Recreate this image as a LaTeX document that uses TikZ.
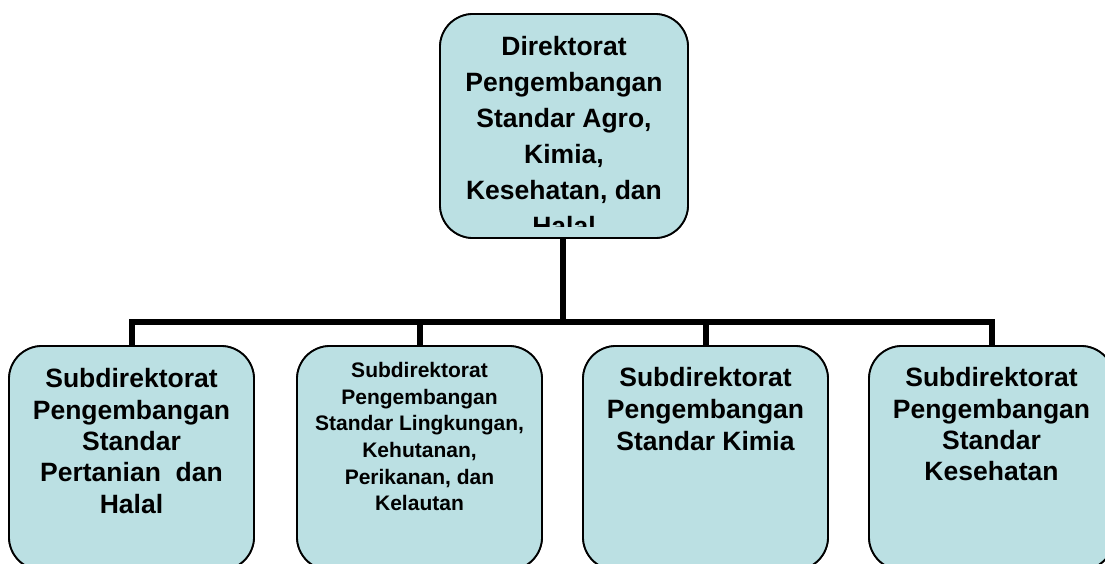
\documentclass[tikz,border=0pt]{standalone}
\usepackage{fontspec}
\setmainfont{Liberation Sans}
\definecolor{boxfill}{RGB}{187,224,227}
\tikzset{
  unitbox/.style={draw=black, line width=1.8pt, fill=boxfill, rounded corners=33pt,
    minimum width=245pt, minimum height=224pt, inner sep=0pt},
  bigtext/.style={anchor=north, inner sep=0pt, align=center,
    font=\fontsize{26.5}{31.3}\selectfont\bfseries},
  smalltext/.style={anchor=north, inner sep=0pt, align=center,
    font=\fontsize{21}{26.7}\selectfont\bfseries},
  conn/.style={line width=6pt, line join=miter}
}
\begin{document}
\begin{tikzpicture}[x=1pt,y=-1pt]
\useasboundingbox (0,0) rectangle (1105,563);
\coordinate (bus) at (563,322);
\node[unitbox, minimum width=248pt] (dir) at (564,126) {};
\node[unitbox] (sub1) at (131.5,458) {};
\node[unitbox] (sub2) at (419.5,458) {};
\node[unitbox] (sub3) at (705.5,458) {};
\node[unitbox] (sub4) at (991.5,458) {};
\draw [conn] (bus |- dir.south) -- (bus);
\draw [conn] (sub1.north) -- (sub1.north |- bus) -- (sub4.north |- bus) -- (sub4.north);
\draw [conn] (sub2.north) -- (sub2.north |- bus);
\draw [conn] (sub3.north) -- (sub3.north |- bus);
\node[unitbox, minimum width=248pt] at (dir) {};
\foreach \n in {1,...,4}
  \node[unitbox] at (sub\n) {};
\begin{scope}
\clip ([yshift=-14pt]dir.north west) rectangle ([yshift=12pt]dir.south east);
\node[bigtext, font=\fontsize{26.5}{36}\selectfont\bfseries] (dirtxt) at (564,35.7)
  {Direktorat\\Pengembangan\\Standar Agro,\\Kimia,\\Kesehatan, dan\\Halal};
\end{scope}
\node[bigtext] (sub1txt) at (131.5,368.5) {Subdirektorat\\Pengembangan\\Standar\\Pertanian\ \ dan\\Halal};
\node[smalltext] (sub2txt) at (419.5,362) {Subdirektorat\\Pengembangan\\Standar Lingkungan,\\Kehutanan,\\Perikanan, dan\\Kelautan};
\node[bigtext, font=\fontsize{26.5}{32}\selectfont\bfseries] (sub3txt) at (705.5,367) {Subdirektorat\\Pengembangan\\Standar Kimia};
\node[bigtext] (sub4txt) at (991.5,367.5) {Subdirektorat\\Pengembangan\\Standar\\Kesehatan};
\end{tikzpicture}
\end{document}
